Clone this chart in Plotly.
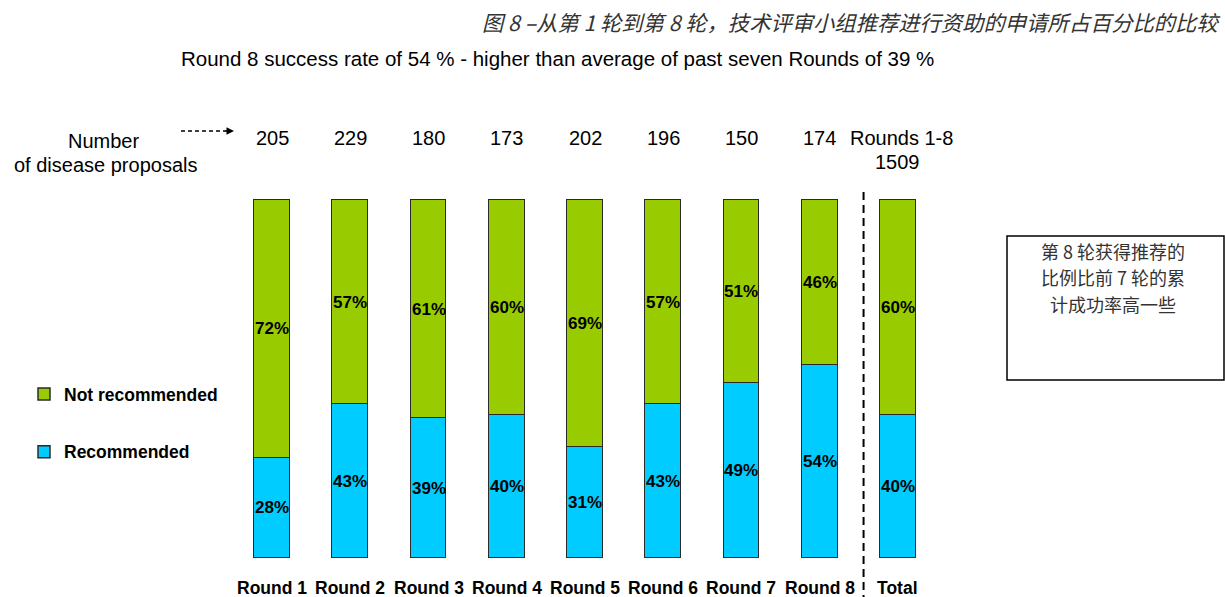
import plotly.graph_objects as go

# ---- data ----
categories = ["Round 1", "Round 2", "Round 3", "Round 4", "Round 5",
              "Round 6", "Round 7", "Round 8", "Total"]
recommended = [28, 43, 39, 40, 31, 43, 49, 54, 40]
not_recommended = [72, 57, 61, 60, 69, 57, 51, 46, 60]
proposals = ["205", "229", "180", "173", "202", "196", "150", "174"]
total_proposals = "1509"

title_cn = "图 8 –从第 1 轮到第 8 轮，技术评审小组推荐进行资助的申请所占百分比的比较"
subtitle = "Round 8 success rate of 54 % - higher than average of past seven Rounds of 39 %"
note_lines = ["第 8 轮获得推荐的", "比例比前 7 轮的累", "计成功率高一些"]

GREEN = "#99CC00"
BLUE = "#00CCFF"
EDGE = "#2b2b2b"
FONT = "Liberation Sans, Arial, sans-serif"
CJK = "Noto Sans CJK SC, sans-serif"

W, H = 1225, 597
xs = list(range(len(categories)))


def px(x):
    return x / W


def py(y):
    return 1 - y / H


def label(x, y, text, size, xref="paper", yref="paper", bold=False, family=FONT,
          color="black", xanchor="center", yanchor="middle"):
    font = dict(family=family, size=size, color=color)
    if bold:
        font["weight"] = "bold"
    return dict(x=x, y=y, xref=xref, yref=yref, text=text, showarrow=False,
                xanchor=xanchor, yanchor=yanchor, font=font)


fig = go.Figure()
fig.add_trace(go.Bar(
    x=xs, y=recommended, name="Recommended", marker_color=BLUE,
    marker_line=dict(color=EDGE, width=1.5), width=0.46,
    legendgroup="rec", legendrank=2, hoverinfo="skip"))
fig.add_trace(go.Bar(
    x=xs, y=not_recommended, name="Not recommended", marker_color=GREEN,
    marker_line=dict(color=EDGE, width=1.5), width=0.46,
    legendgroup="not", legendrank=1, hoverinfo="skip"))

ann = []
# percentage labels centred in each segment
for i in xs:
    r, n = recommended[i], not_recommended[i]
    ann.append(label(i, r / 2, f"{r}%", 17, "x", "y", bold=True))
    ann.append(label(i, r + n / 2, f"{n}%", 17, "x", "y", bold=True))

# category labels under the bars
for i, c in enumerate(categories):
    ann.append(label(i, py(588), c, 17.5, "x", "paper", bold=True))

# number of proposals above each bar
for i, p in enumerate(proposals):
    ann.append(label(i, py(138), p, 20, "x", "paper"))
ann.append(label(8.05, py(138), "Rounds 1-8", 20, "x", "paper"))
ann.append(label(8.0, py(162), total_proposals, 20, "x", "paper"))

ann.append(label(px(103), py(141), "Number", 20))
ann.append(label(px(105), py(165), "of disease proposals", 20))

# titles
ann.append(label(px(1222), py(22), f"<i>{title_cn}</i>", 21.3, family=CJK,
                 color="#333333", xanchor="right"))
ann.append(label(px(557), py(58), subtitle, 20.5))

# note box text, one line per annotation
for k, line in enumerate(note_lines):
    ann.append(label(px(1113), py(250.5 + 26.5 * k), line, 18, family=CJK, color="#333333"))

shapes = [
    # dashed separator before the total bar
    dict(type="line", xref="x", yref="paper", x0=7.56, x1=7.56, y0=py(192), y1=0,
         line=dict(color="black", width=2, dash="8px,5px")),
    # arrow shaft
    dict(type="line", xref="paper", yref="paper", x0=px(181), x1=px(226), y0=py(131), y1=py(131),
         line=dict(color="black", width=1.5, dash="4px,3px")),
    # note box
    dict(type="rect", xref="paper", yref="paper", x0=px(1007), x1=px(1224), y0=py(236), y1=py(380),
         line=dict(color="black", width=1.5)),
]
# arrow head
ann.append(dict(x=px(234), y=py(131), ax=-10, ay=0, xref="paper", yref="paper",
                axref="pixel", ayref="pixel", text="", showarrow=True, arrowhead=2,
                arrowsize=1, arrowwidth=1.5, arrowcolor="black"))

fig.update_layout(
    width=W, height=H, margin=dict(l=0, r=0, t=0, b=0),
    paper_bgcolor="white", plot_bgcolor="white",
    barmode="stack", bargap=0,
    annotations=ann, shapes=shapes,
    showlegend=True,
    legend=dict(x=px(24), y=py(376), xanchor="left", yanchor="top",
                traceorder="grouped", tracegroupgap=32, itemwidth=30,
                font=dict(family=FONT, size=17.5, color="black", weight="bold"),
                bgcolor="rgba(0,0,0,0)"),
    xaxis=dict(range=[-3.476, 12.179], visible=False, fixedrange=True),
    yaxis=dict(range=[-10.894, 155.866], visible=False, fixedrange=True),
)

fig.write_html("out.html")
